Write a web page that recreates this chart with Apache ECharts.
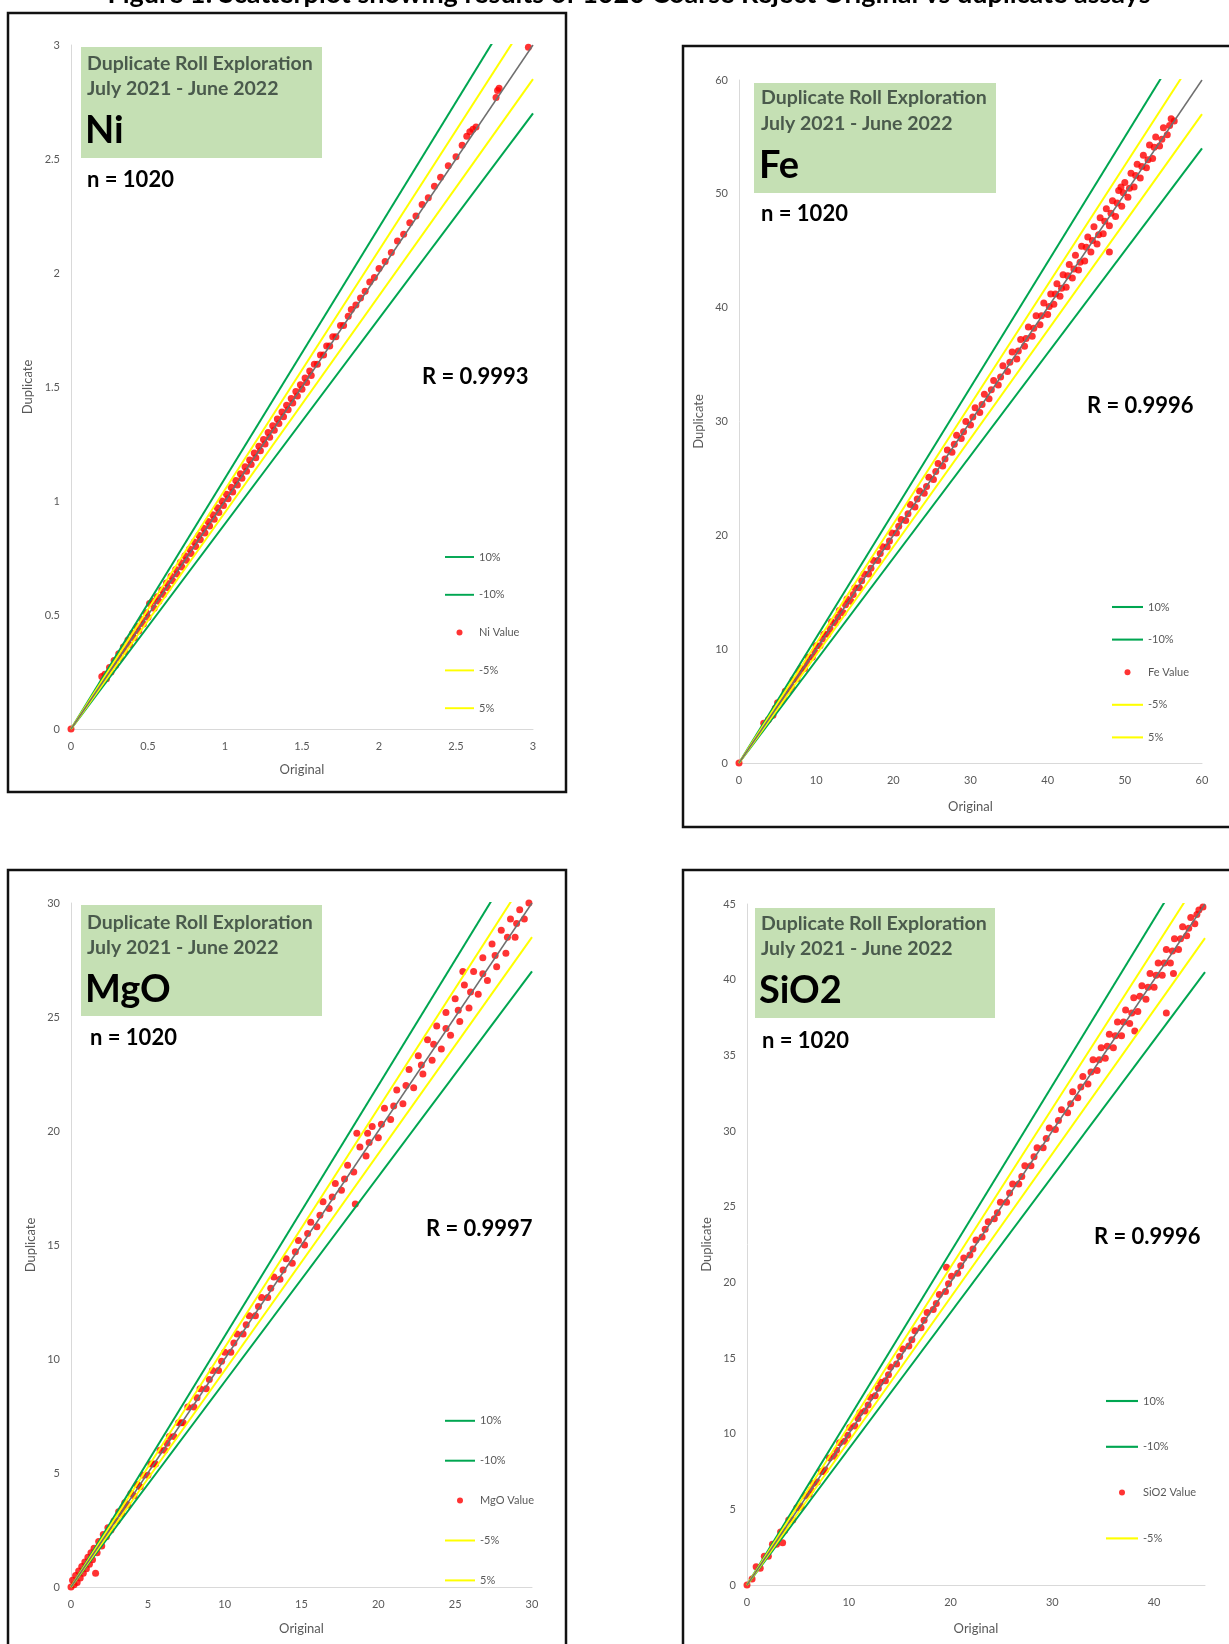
<!DOCTYPE html>
<html><head><meta charset="utf-8">
<script src="https://cdn.jsdelivr.net/npm/echarts@6/dist/echarts.min.js"></script>
<style>html,body{margin:0;padding:0;background:#fff}#c{width:1229px;height:1644px}</style>
</head><body><div id="c"></div><script>
// ---------------- DATA ----------------
const figureTitle = 'Figure 1: Scatterplot showing results of 1020 Coarse Reject Original vs duplicate assays';
const boxLine1 = 'Duplicate Roll Exploration';
const boxLine2 = 'July 2021 - June 2022';
const analytes = ['Ni', 'Fe', 'MgO', 'SiO2'];
const sampleCounts = [1020, 1020, 1020, 1020];
const rValues = ['0.9993', '0.9996', '0.9997', '0.9996'];
const axisMax = [3, 60, 30, 45];
const xIntervals = [0.5, 10, 5, 10];
const yIntervals = [0.5, 10, 5, 5];
const bandNames = ['10%', '-10%', '-5%', '5%'];
const bandFactors = [1.10, 0.90, 0.95, 1.05];
const legendOrders = [
  ['10%', '-10%', 'Ni Value', '-5%', '5%'],
  ['10%', '-10%', 'Fe Value', '-5%', '5%'],
  ['10%', '-10%', 'MgO Value', '-5%', '5%'],
  ['10%', '-10%', 'SiO2 Value', '-5%']
];

const niPoints = [[0,0],
[0.20,0.23],[0.21,0.21],[0.22,0.24],[0.23,0.22],[0.25,0.27],[0.26,0.25],[0.28,0.30],[0.29,0.28],[0.31,0.33],[0.32,0.31],
[0.34,0.36],[0.35,0.34],[0.37,0.39],[0.38,0.37],[0.40,0.42],[0.41,0.40],[0.43,0.45],[0.44,0.43],[0.46,0.48],[0.47,0.46],
[0.49,0.51],[0.50,0.49],[0.51,0.55],[0.53,0.56],[0.54,0.53],[0.56,0.58],[0.57,0.56],[0.59,0.61],[0.60,0.59],[0.62,0.64],
[0.63,0.62],[0.65,0.67],[0.66,0.65],[0.68,0.70],[0.69,0.68],[0.71,0.73],[0.72,0.71],[0.74,0.76],[0.75,0.74],[0.77,0.79],
[0.78,0.77],[0.80,0.82],[0.81,0.80],[0.83,0.85],[0.84,0.83],[0.86,0.88],[0.87,0.86],[0.89,0.91],[0.90,0.89],[0.92,0.94],
[0.93,0.92],[0.95,0.97],[0.96,0.95],[0.98,1.00],[0.99,0.98],[1.01,1.03],[1.02,1.01],[1.04,1.06],[1.05,1.04],[1.07,1.09],
[1.08,1.07],[1.10,1.12],[1.11,1.10],[1.13,1.15],[1.14,1.13],[1.16,1.18],[1.17,1.16],[1.19,1.21],[1.20,1.19],[1.22,1.24],
[1.23,1.22],[1.25,1.27],[1.26,1.25],[1.28,1.30],[1.29,1.28],[1.31,1.33],[1.32,1.31],[1.34,1.36],[1.35,1.34],[1.37,1.39],
[1.38,1.37],[1.40,1.42],[1.41,1.40],[1.43,1.45],[1.44,1.43],[1.46,1.48],[1.47,1.46],[1.49,1.51],[1.50,1.49],[1.52,1.54],
[1.53,1.52],[1.55,1.57],[1.56,1.55],[1.58,1.60],[1.60,1.60],[1.62,1.64],[1.64,1.64],[1.66,1.68],[1.68,1.68],[1.70,1.72],
[1.72,1.72],[1.75,1.77],[1.77,1.77],[1.80,1.81],[1.82,1.84],[1.85,1.86],[1.88,1.89],[1.91,1.92],[1.94,1.96],[1.97,1.98],
[2.00,2.02],[2.04,2.05],[2.08,2.09],[2.12,2.14],[2.16,2.17],[2.20,2.22],[2.24,2.25],[2.28,2.30],[2.32,2.33],[2.36,2.38],
[2.40,2.42],[2.45,2.47],[2.50,2.51],[2.54,2.56],[2.57,2.60],[2.59,2.62],[2.61,2.63],[2.63,2.64],[2.76,2.77],[2.77,2.80],
[2.78,2.81],[2.97,2.99]];

const fePoints = [[0,0],
[3.2,3.5],[4.4,4.2],[5.0,5.3],[5.5,5.4],[6.0,6.3],[6.5,6.4],[7.0,7.3],[7.5,7.4],[8.0,8.3],[8.5,8.3],[9.0,9.3],[9.5,9.3],
[10.0,10.3],[10.5,10.3],[11.0,11.3],[11.5,11.3],[12.0,12.4],[12.5,12.3],[13.0,13.4],[13.5,13.2],[14.0,14.4],[14.5,14.2],
[15.0,15.4],[15.6,15.4],[16.2,16.6],[16.8,16.6],[17.4,17.8],[18.0,17.8],[18.6,19.0],[19.2,19.0],[19.8,20.2],[20.4,20.2],
[21.0,21.4],[21.6,21.3],[22.2,22.7],[22.8,22.5],[23.4,23.9],[24.0,23.7],[24.6,25.1],[25.2,24.9],[25.8,26.3],[26.4,26.1],
[27.0,27.5],[27.6,27.3],[28.2,28.8],[28.8,28.5],[29.4,30.0],[30.0,29.7],[30.6,31.2],[31.2,30.8],[31.8,32.4],[32.4,32.0],
[33.0,33.6],[33.6,33.2],[34.2,34.9],[34.8,34.4],[35.4,36.1],[36.0,35.5],[36.5,37.2],[37.0,36.6],[37.5,38.3],[38.0,37.5],
[38.5,39.3],[39.0,38.5],[39.5,40.4],[40.0,39.4],[40.4,41.2],[40.8,40.3],[41.2,42.1],[41.6,41.0],[42.0,42.9],[42.4,41.8],
[42.8,43.8],[43.2,42.6],[43.6,44.6],[44.0,43.3],[44.4,45.4],[44.8,44.1],[45.2,46.2],[45.6,44.9],[46.0,47.1],[46.4,45.6],
[46.8,47.9],[47.2,46.5],[47.6,48.7],[48.0,47.2],[48.4,49.4],[48.8,48.0],[49.2,50.3],[49.6,48.9],[50.0,51.0],[50.4,49.7],
[50.8,51.8],[51.2,50.6],[51.6,52.6],[52.0,51.4],[52.4,53.4],[52.8,52.3],[53.2,54.3],[53.6,53.1],[54.0,55.0],[54.5,54.2],
[55.0,55.8],[55.5,55.2],[56.0,56.6],[56.4,56.4],[48.0,44.9],[49.5,50.6],
[3.8,3.8],[4.7,4.8],[5.8,5.8],[6.8,6.7],[7.8,7.9],[8.8,8.8],[9.8,9.8],[10.8,10.9],[11.8,11.8],[12.8,12.8],[13.8,13.9],
[14.8,14.8],[15.9,16.0],[17.1,17.1],[18.3,18.4],[19.5,19.5],[20.7,20.8],[21.9,21.9],[23.1,23.2],[24.3,24.3],[25.5,25.6],
[26.7,26.7],[27.9,28.0],[29.1,29.1],[30.3,30.4],[31.5,31.5],[32.7,32.8],[33.9,33.9],[35.1,35.2],[36.2,36.2],[37.2,37.3],
[38.2,38.2],[39.2,39.3],[40.2,40.1],[41.0,41.2],[41.8,41.7],[42.6,42.8],[43.4,43.4],[44.2,44.0],[45.0,45.3],[45.8,45.9],
[46.6,46.4],[47.4,47.6],[48.2,48.3],[49.0,49.2],[49.8,50.1],[50.6,50.5],[51.4,51.6],[52.2,52.4],[53.0,53.0],[53.8,54.1],
[54.8,54.8],[55.8,56.0]];

const mgoPoints = [[0,0],
[0.1,0.3],[0.2,0.1],[0.3,0.5],[0.4,0.2],[0.5,0.7],[0.6,0.4],[0.7,0.9],[0.8,0.6],[0.9,1.1],[1.0,0.8],[1.1,1.3],[1.2,1.0],
[1.3,1.5],[1.4,1.2],[1.6,0.6],[1.5,1.7],[1.7,1.5],[1.8,2.0],[2.0,1.8],[2.1,2.3],[2.3,2.2],[2.4,2.6],[2.6,2.5],[2.8,2.9],
[3.0,2.9],[3.1,3.3],[3.3,3.2],[3.5,3.7],[3.7,3.6],[3.9,4.1],[4.1,4.0],[4.3,4.5],[4.5,4.4],[4.7,4.9],[5.0,4.9],[5.2,5.4],
[5.5,5.4],[5.8,6.0],[6.1,6.0],[6.4,6.6],[6.7,6.6],[7.0,7.2],[7.3,7.2],[7.6,7.9],[8.0,7.9],[8.4,8.7],[8.8,8.7],[9.2,9.5],
[9.6,9.5],[10.0,10.3],[10.4,10.3],[10.8,11.1],[11.2,11.1],[11.6,11.9],[12.0,11.9],[12.4,12.7],[12.8,12.7],[13.2,13.6],
[13.6,13.5],[14.0,14.4],[14.4,14.2],[14.8,15.2],[15.2,15.0],[15.6,16.0],[16.0,15.8],[16.4,16.9],[16.8,16.6],[17.2,17.7],
[17.6,17.4],[18.0,18.5],[18.4,18.2],[18.5,16.8],[18.6,19.9],[19.3,19.9],[18.8,19.3],[19.2,18.9],[19.6,20.2],[20.0,19.7],
[20.4,21.0],[20.8,20.5],[21.2,21.8],[21.6,21.2],[22.0,22.7],[22.3,21.9],[22.6,23.3],[22.9,22.5],[23.2,24.0],[23.5,23.1],
[23.8,24.6],[24.1,23.6],[24.4,25.2],[24.7,24.2],[25.0,25.8],[25.3,24.8],[25.5,27.0],[25.6,26.4],[25.9,25.4],[26.2,27.0],
[26.5,26.0],[26.8,27.6],[27.1,26.6],[27.4,28.2],[27.7,27.2],[28.0,28.8],[28.3,27.8],[28.6,29.3],[28.9,28.5],[29.2,29.7],
[29.5,29.3],[29.8,30.0],
[2.5,2.55],[3.4,3.45],[4.4,4.45],[5.35,5.4],[6.25,6.3],[7.15,7.2],[8.2,8.3],[9.0,9.1],[9.8,9.9],[10.6,10.7],[11.4,11.5],
[12.2,12.3],[13.0,13.1],[13.8,13.9],[14.6,14.7],[15.4,15.5],[16.2,16.3],[17.0,17.1],[17.8,17.9],[19.4,19.5],[20.2,20.3],
[21.0,21.1],[21.8,22.0],[22.8,22.9],[23.6,23.8],[24.4,24.5],[25.2,25.3],[26.0,26.1],[26.8,26.9],[27.6,27.7],[28.4,28.5],
[29.0,29.1]];

const sio2Points = [[0,0],
[0.5,0.4],[0.9,1.2],[1.3,1.1],[1.7,1.9],[2.1,1.9],[2.5,2.7],[2.9,2.7],[3.3,3.5],[3.5,2.8],[3.7,3.6],[4.1,4.3],[4.5,4.3],
[4.9,5.1],[5.3,5.2],[5.7,5.9],[6.1,6.0],[6.5,6.7],[6.9,6.8],[7.3,7.5],[7.7,7.6],[8.1,8.4],[8.6,8.5],[9.1,9.4],[9.6,9.5],
[10.1,10.4],[10.6,10.5],[11.1,11.4],[11.6,11.5],[12.1,12.4],[12.6,12.5],[13.1,13.4],[13.6,13.5],[14.1,14.4],[14.7,14.6],
[15.3,15.6],[15.9,15.8],[16.5,16.8],[17.1,17.0],[17.7,18.0],[18.3,18.2],[18.9,19.2],[19.6,21.0],[19.5,19.4],[20.1,20.4],
[20.7,20.6],[21.3,21.6],[21.9,21.8],[22.5,22.8],[23.1,23.0],[23.7,24.0],[24.3,24.2],[24.9,25.3],[25.5,25.3],[26.1,26.5],
[26.7,26.5],[27.3,27.7],[27.9,27.7],[28.5,28.9],[29.1,28.9],[29.7,30.2],[30.3,30.1],[30.9,31.4],[31.5,31.2],[32.0,32.6],
[32.5,32.2],[33.0,33.6],[33.5,33.1],[34.0,34.7],[34.4,34.0],[34.8,35.5],[35.2,34.8],[35.6,36.4],[36.0,35.5],[36.4,37.2],
[36.8,36.3],[37.2,38.0],[37.6,37.1],[38.0,38.8],[38.1,36.6],[38.4,37.9],[38.8,39.6],[39.2,38.7],[39.6,40.4],[40.0,39.5],
[40.4,41.1],[40.8,40.3],[41.2,37.8],[41.2,42.0],[41.6,41.1],[41.9,40.4],[42.0,42.7],[42.4,42.0],[42.8,43.5],[43.2,42.9],
[43.6,44.1],[44.0,43.7],[44.4,44.6],[44.8,44.8],
[5.1,5.1],[6.3,6.3],[7.5,7.5],[8.8,8.9],[9.9,9.9],[10.9,11.0],[11.9,11.9],[12.9,13.0],[13.9,13.9],[15.0,15.1],[16.2,16.2],
[17.4,17.5],[18.6,18.6],[19.8,19.9],[21.0,21.1],[22.2,22.2],[23.4,23.5],[24.6,24.6],[25.8,25.9],[27.0,27.0],[28.2,28.3],
[29.4,29.5],[30.6,30.7],[31.8,31.8],[32.8,32.9],[33.8,33.9],[34.6,34.7],[35.4,35.6],[36.2,36.3],[37.0,37.2],[37.8,37.8],
[38.6,38.9],[39.4,39.5],[40.2,40.3],[41.0,41.1],[41.8,41.9],[42.6,42.7],[43.4,43.4],[44.2,44.3]];

const pointSets = [niPoints, fePoints, mgoPoints, sio2Points];

// ---------------- LAYOUT / STYLE ----------------
const FONT = 'Lato, "Open Sans", sans-serif';
const GREEN = '#00A651', YELLOW = '#FFFF00', RED = '#FF0000', GRAY = '#6f6f6f', LBL = '#595959';
const LINE_ICON = 'path://M0,0H30V2H0Z';
const layout = [
  {grid:{left:71,top:45,width:462,height:684}, box:[8,13,558,779], green:[81,47,241,111], tx:87, ty:[64,89,131], n:[87,180], r:[422,377],
   legend:{left:445,top:551.5,itemWidth:29,itemGap:26.8}, nameGapX:34, nameGapY:37},
  {grid:{left:739,top:80,width:463,height:683}, box:[683,46,600,781], green:[754,83,242,110], tx:761, ty:[98,124,166], n:[761,214], r:[1087,406],
   legend:{left:1112,top:601.5,itemWidth:31,itemGap:21.6}, nameGapX:37, nameGapY:34},
  {grid:{left:71,top:903,width:461,height:684}, box:[8,870,558,800], green:[81,905,241,111], tx:87, ty:[923,948,990], n:[90,1038], r:[426,1229],
   legend:{left:445,top:1415.3,itemWidth:30,itemGap:28.9}, nameGapX:35, nameGapY:34},
  {grid:{left:747,top:904,width:458,height:681}, box:[683,870,600,800], green:[755,908,240,110], tx:761, ty:[924,949,991], n:[762,1041], r:[1094,1237],
   legend:{left:1106,top:1395.5,itemWidth:32,itemGap:34.8}, nameGapX:37, nameGapY:34}
];

const grids = [], xAxes = [], yAxes = [], series = [], legends = [], graphics = [];

graphics.push({type:'text', x:629, y:-6, style:{text:figureTitle, font:'bold 27px ' + FONT, fill:'#000', align:'center', verticalAlign:'middle'}});

analytes.forEach((a, i) => {
  const L = layout[i], mx = axisMax[i];
  grids.push(Object.assign({containLabel:false}, L.grid));
  const axisCommon = {
    type:'value', min:0, max:mx, gridIndex:i,
    axisLine:{show:true, lineStyle:{color:'#D9D9D9', width:1}},
    axisTick:{show:false}, splitLine:{show:false},
    axisLabel:{color:LBL, fontSize:11, fontFamily:FONT},
    nameLocation:'middle', nameTextStyle:{color:LBL, fontSize:13, fontFamily:FONT}
  };
  xAxes.push(Object.assign({}, axisCommon, {interval:xIntervals[i], name:'Original', nameGap:L.nameGapX,
    axisLabel:Object.assign({}, axisCommon.axisLabel, {margin:12, showMaxLabel: (mx % xIntervals[i]) === 0})}));
  yAxes.push(Object.assign({}, axisCommon, {interval:yIntervals[i], name:'Duplicate', nameGap:L.nameGapY,
    axisLabel:Object.assign({}, axisCommon.axisLabel, {margin:11})}));

  bandNames.forEach((bn, k) => {
    const f = bandFactors[k];
    const col = Math.abs(f - 1) > 0.07 ? GREEN : YELLOW;
    series.push({type:'line', name:bn, xAxisIndex:i, yAxisIndex:i, symbol:'none', clip:true, z:3,
      lineStyle:{color:col, width:2}, itemStyle:{color:col},
      data:[[0,0],[mx, mx*f]]});
  });
  series.push({type:'scatter', name:a + ' Value', xAxisIndex:i, yAxisIndex:i, symbol:'circle', symbolSize:7, z:2,
    itemStyle:{color:RED}, data:pointSets[i]});
  series.push({type:'line', name:'Parity ' + a, xAxisIndex:i, yAxisIndex:i, symbol:'none', clip:true, z:4,
    lineStyle:{color:GRAY, width:1.5}, data:[[0,0],[mx, mx]]});

  legends.push({orient:'vertical', left:L.legend.left, top:L.legend.top, padding:0, itemWidth:L.legend.itemWidth, itemHeight:6,
    itemGap:L.legend.itemGap, selectedMode:false,
    data:legendOrders[i].map(nm => nm.indexOf('Value') >= 0 ? {name:nm, icon:'circle'} : {name:nm, icon:LINE_ICON}),
    textStyle:{color:LBL, fontSize:11, fontFamily:FONT}});

  graphics.push({type:'rect', shape:{x:L.box[0], y:L.box[1], width:L.box[2], height:L.box[3]},
    style:{fill:null, stroke:'#111', lineWidth:2.5}, z:10});
  graphics.push({type:'rect', shape:{x:L.green[0], y:L.green[1], width:L.green[2], height:L.green[3]},
    style:{fill:'#C5E0B4'}, z:5});
  graphics.push({type:'text', x:L.tx, y:L.ty[0], z:6, style:{text:boxLine1, font:'bold 19.5px ' + FONT, fill:'#4a5a4c', verticalAlign:'middle'}});
  graphics.push({type:'text', x:L.tx, y:L.ty[1], z:6, style:{text:boxLine2, font:'bold 19.5px ' + FONT, fill:'#4a5a4c', verticalAlign:'middle'}});
  graphics.push({type:'text', x:L.tx - 2, y:L.ty[2], z:6, style:{text:a, font:'bold 38px ' + FONT, fill:'#000', verticalAlign:'middle'}});
  graphics.push({type:'text', x:L.n[0], y:L.n[1], z:6, style:{text:'n = ' + sampleCounts[i], font:'bold 22px ' + FONT, fill:'#000', verticalAlign:'middle'}});
  graphics.push({type:'text', x:L.r[0], y:L.r[1], z:6, style:{text:'R = ' + rValues[i], font:'bold 22px ' + FONT, fill:'#000', verticalAlign:'middle'}});
});

const chart = echarts.init(document.getElementById('c'), null, {renderer:'canvas'});
chart.setOption({
  backgroundColor:'#fff', animation:false,
  grid:grids, xAxis:xAxes, yAxis:yAxes, series:series, legend:legends, graphic:graphics
});
</script></body></html>
